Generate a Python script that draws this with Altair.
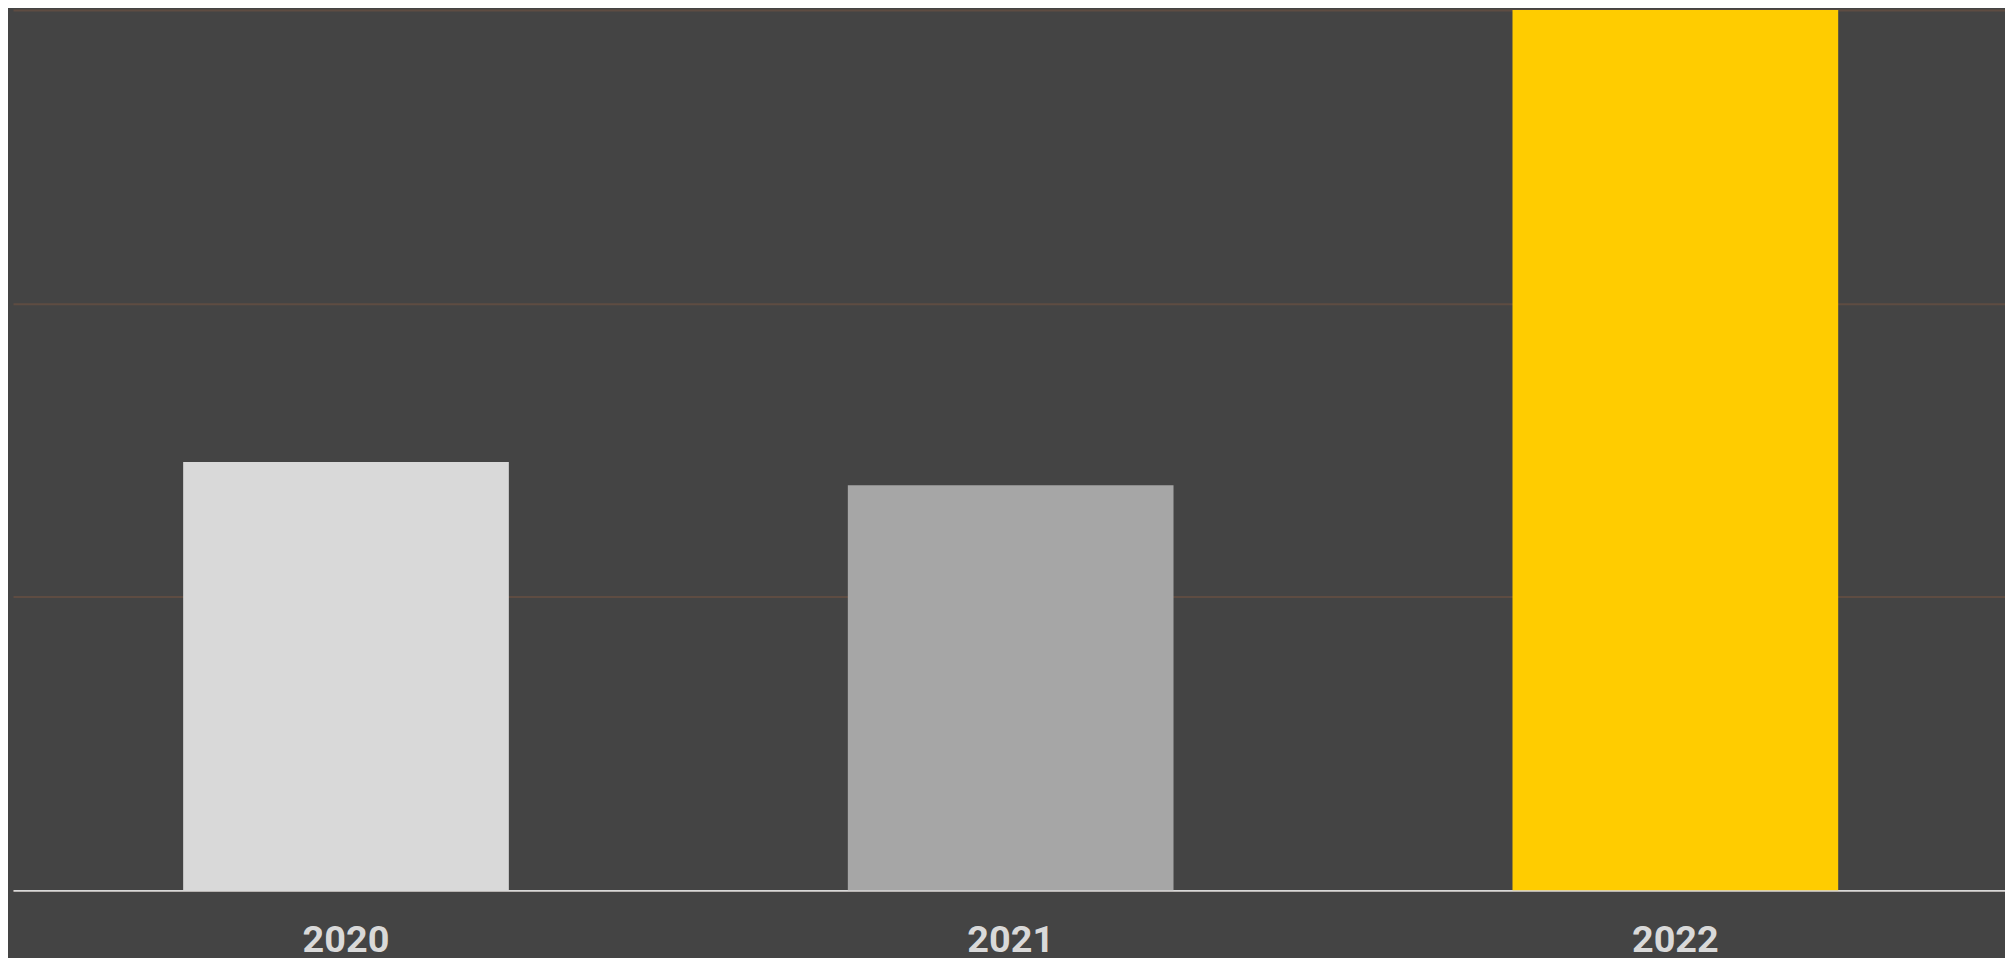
import altair as alt
import pandas as pd

years = ["2020", "2021", "2022"]
values = [146, 138, 300]
colors = ["#d9d9d9", "#a6a6a6", "#ffcc00"]
grid_values = [0, 100, 200, 300]

df = pd.DataFrame({"year": years, "value": values})

chart = alt.Chart(df).mark_bar().encode(
    x=alt.X("year:N", sort=years, title=None,
            scale=alt.Scale(paddingInner=0.51, paddingOuter=0.2535, align=0.505),
            axis=alt.Axis(labelAngle=0, ticks=False, labelPadding=31,
                          labelFontSize=38, labelFont="Roboto", labelFontWeight="bold",
                          labelColor="#d9d9d9", domainColor="#d9d9d9", domainWidth=2,
                          labelLimit=400, grid=False)),
    y=alt.Y("value:Q", title=None,
            scale=alt.Scale(domain=[0, 300], nice=False),
            axis=alt.Axis(values=grid_values, labels=False, ticks=False, domain=False,
                          grid=True, gridColor="#5e4c42", gridWidth=2)),
    color=alt.Color("year:N", scale=alt.Scale(domain=years, range=colors), legend=None),
).properties(
    width=2000, height=884, background="#444444",
    padding={"left": 5, "top": 0, "right": 0, "bottom": 0},
).configure_view(stroke=None)

chart.save("out.html", embed_options={"renderer": "svg", "actions": False})
